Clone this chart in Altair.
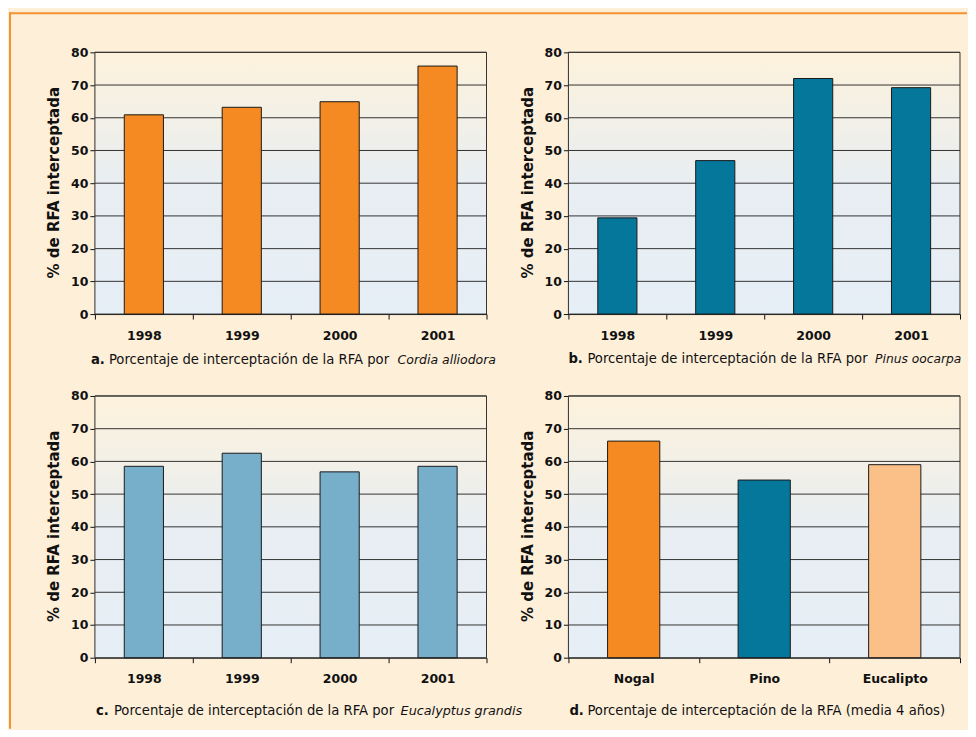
import altair as alt
import pandas as pd

# ---------------- data ----------------
years = ["1998", "1999", "2000", "2001"]
cordia = [60.9, 63.2, 64.9, 75.8]
pinus = [29.4, 46.9, 72.0, 69.2]
eucalyptus = [58.5, 62.5, 56.8, 58.5]
species = ["Nogal", "Pino", "Eucalipto"]
means = [66.2, 54.3, 59.0]
y_ticks = [0, 10, 20, 30, 40, 50, 60, 70, 80]
grid_values = [10, 20, 30, 40, 50, 60, 70, 80]

caption_letters = ["a.", "b.", "c.", "d."]
caption_main = [
    "Porcentaje de interceptación de la RFA por",
    "Porcentaje de interceptación de la RFA por",
    "Porcentaje de interceptación de la RFA por",
    "Porcentaje de interceptación de la RFA (media 4 años)",
]
caption_italic = ["Cordia alliodora", "Pinus oocarpa", "Eucalyptus grandis", ""]
y_title = "% de RFA interceptada"

# ---------------- style ----------------
ORANGE = "#F48A21"
TEAL = "#05779B"
LIGHTBLUE = "#77AFCA"
PEACH = "#FBBF88"
CREAM = "#FEEFD9"
BORDER = "#F4922F"
FONT = "DejaVu Sans"
W, H = 392, 262

panel_colors = [[ORANGE] * 4, [TEAL] * 4, [LIGHTBLUE] * 4, [ORANGE, TEAL, PEACH]]
# caption positions relative to each plot area: (letter x, main x, italic x, y, italic size)
caption_pos = [(-4, 14, 303, 308, 12.5), (0, 19, 307, 307, 12.3),
               (1, 19, 306, 315, 12.8), (1, 19, 0, 315, 12.5)]


def panel(cats, vals, colors, i, border=False):
    df = pd.DataFrame({"cat": cats, "val": vals, "col": colors})
    x_enc = alt.X(
        "cat:N", sort=cats,
        scale=alt.Scale(paddingInner=0, paddingOuter=0),
        axis=alt.Axis(title=None, labelAngle=0, tickBand="extent", labelFont=FONT,
                      labelFontSize=12.5, labelFontWeight="bold", labelColor="#111",
                      domainColor="#111", tickColor="#111", tickSize=5, labelPadding=10,
                      grid=False),
    )
    y_enc = alt.Y(
        "val:Q", scale=alt.Scale(domain=[0, 80], nice=False),
        axis=alt.Axis(values=y_ticks, title=y_title, titleFont=FONT, titleFontSize=15,
                      titleFontWeight="bold", titleColor="#111", titleX=-41, titleY=130,
                      titleAngle=270, titleBaseline="middle", titleAlign="center",
                      labelFont=FONT, labelFontSize=12.5, labelFontWeight="bold",
                      labelColor="#111", labelPadding=2, tickSize=5, tickColor="#111",
                      domainColor="#111", grid=False),
    )
    one = pd.DataFrame({"k": [0]})
    bg = alt.Chart(one).mark_rect(
        fill=alt.LinearGradient(
            gradient="linear",
            stops=[alt.GradientStop(offset=0, color="#FDF2DC"),
                   alt.GradientStop(offset=0.5, color="#E8EEF2"),
                   alt.GradientStop(offset=1, color="#E6EEF6")],
            x1=0, x2=0, y1=0, y2=1),
        stroke="#333", strokeWidth=1,
    ).encode(x=alt.value(0), x2=alt.value("width"), y=alt.value(0), y2=alt.value("height"))

    grid = alt.Chart(pd.DataFrame({"val": grid_values})).mark_rule(
        color="#333333", strokeWidth=1).encode(y=y_enc)

    bars = alt.Chart(df).mark_bar(
        width=alt.RelativeBandSize(0.4), stroke="#1a1a1a", strokeWidth=1
    ).encode(x=x_enc, y=y_enc, color=alt.Color("col:N", scale=None))

    lx, mx, ix, ty, isz = caption_pos[i]
    t1 = alt.Chart(pd.DataFrame({"t": [caption_letters[i]]})).mark_text(
        align="left", baseline="middle", font=FONT, fontSize=13.2, fontWeight="bold",
        color="#111").encode(x=alt.value(lx), y=alt.value(ty), text="t:N")
    t2 = alt.Chart(pd.DataFrame({"t": [caption_main[i]]})).mark_text(
        align="left", baseline="middle", font=FONT, fontSize=13.2,
        color="#111").encode(x=alt.value(mx), y=alt.value(ty), text="t:N")
    layers = [bg, grid, bars, t1, t2]
    if caption_italic[i]:
        t3 = alt.Chart(pd.DataFrame({"t": [caption_italic[i]]})).mark_text(
            align="left", baseline="middle", font=FONT, fontSize=isz, fontStyle="italic",
            color="#111").encode(x=alt.value(ix), y=alt.value(ty), text="t:N")
        layers.append(t3)
    if border:
        top = alt.Chart(one).mark_rule(color=BORDER, strokeWidth=2).encode(
            x=alt.value(-86), x2=alt.value(873), y=alt.value(-39), y2=alt.value(-39))
        left = alt.Chart(one).mark_rule(color=BORDER, strokeWidth=2).encode(
            x=alt.value(-85), x2=alt.value(-85), y=alt.value(-40), y2=alt.value(677))
        layers = [top, left] + layers
    return alt.layer(*layers).properties(width=W, height=H)


pa = panel(years, cordia, panel_colors[0], 0, border=True)
pb = panel(years, pinus, panel_colors[1], 1)
pc = panel(years, eucalyptus, panel_colors[2], 2)
pd_ = panel(species, means, panel_colors[3], 3)

chart = alt.concat(pa, pb, pc, pd_, columns=2, spacing=82, bounds="flush").configure(
    background=CREAM, padding={"left": 0, "top": 3, "right": 0, "bottom": 0}
).configure_view(stroke=None)

chart.save("out.html", embed_options={"renderer": "svg", "actions": False})
